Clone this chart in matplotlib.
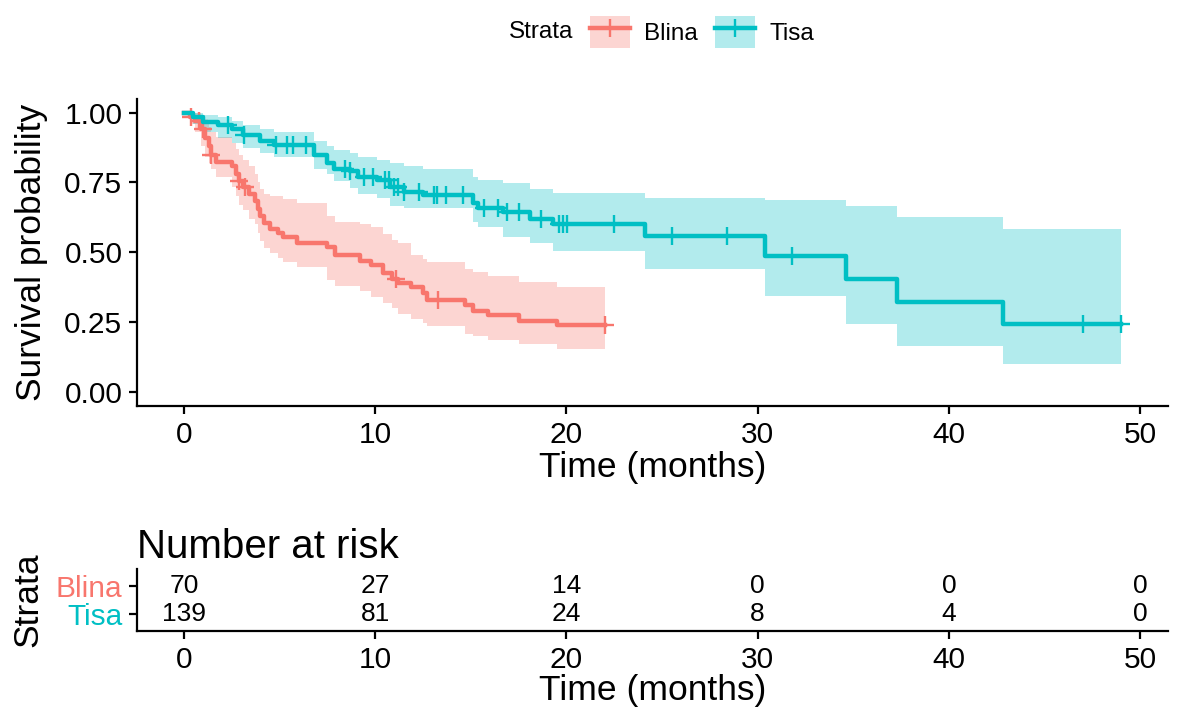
import matplotlib.pyplot as plt
import numpy as np
from matplotlib.lines import Line2D
from matplotlib.patches import Patch

plt.rcParams["font.family"] = ["Liberation Sans", "DejaVu Sans"]

# colours (ggplot default hue pair)
red = "#F8766D"
teal = "#00BFC4"

# Blina curve: step times, survival, confidence band
blina_time = [0, 0.3, 0.6, 0.9, 1.1, 1.3, 1.4, 1.7, 2.5, 2.7, 2.9, 3.1, 3.4, 3.7,
              3.9, 4.0, 4.2, 4.5, 4.9, 5.2, 5.9, 7.5, 7.9, 9.2, 9.8, 10.4, 10.9,
              11.2, 11.9, 12.5, 12.7, 14.7, 15.1, 15.9, 17.5, 19.5, 22.0]
blina_surv = [1.0, 0.985, 0.97, 0.94, 0.91, 0.88, 0.85, 0.825, 0.81, 0.78, 0.755,
              0.735, 0.71, 0.685, 0.655, 0.63, 0.605, 0.585, 0.57, 0.555, 0.535,
              0.52, 0.49, 0.47, 0.455, 0.425, 0.405, 0.39, 0.375, 0.355, 0.33,
              0.31, 0.29, 0.275, 0.255, 0.24, 0.24]
blina_upper = [1.0, 1.0, 1.0, 0.99, 0.97, 0.95, 0.93, 0.914, 0.89, 0.87, 0.85,
               0.83, 0.81, 0.78, 0.75, 0.725, 0.71, 0.70, 0.70, 0.69, 0.675,
               0.63, 0.61, 0.60, 0.59, 0.565, 0.545, 0.535, 0.49, 0.475, 0.466,
               0.442, 0.43, 0.415, 0.394, 0.376, 0.376]
blina_lower = [1.0, 0.96, 0.93, 0.88, 0.84, 0.82, 0.80, 0.77, 0.735, 0.70, 0.67,
               0.65, 0.62, 0.60, 0.57, 0.54, 0.515, 0.497, 0.48, 0.465, 0.448,
               0.40, 0.38, 0.36, 0.34, 0.32, 0.30, 0.28, 0.263, 0.246, 0.235,
               0.209, 0.20, 0.185, 0.173, 0.155, 0.155]
blina_censor = [0.37, 0.8, 1.0, 1.4, 2.9, 3.2, 11.1, 13.3, 22.0]

# Tisa curve
tisa_time = [0, 0.5, 1.0, 1.8, 2.5, 3.1, 4.0, 4.7, 6.8, 7.5, 7.85, 8.7, 9.1, 10.1,
             10.8, 11.5, 12.5, 15.1, 15.4, 16.7, 18.1, 19.3, 24.1, 30.4, 34.6,
             37.3, 42.8, 49.0]
tisa_surv = [1.0, 0.985, 0.965, 0.955, 0.94, 0.92, 0.90, 0.885, 0.85, 0.82, 0.80,
             0.79, 0.77, 0.76, 0.735, 0.717, 0.705, 0.675, 0.657, 0.645, 0.62,
             0.60, 0.557, 0.488, 0.406, 0.323, 0.242, 0.242]
tisa_upper = [1.0, 1.0, 0.99, 0.985, 0.97, 0.955, 0.94, 0.93, 0.90, 0.88, 0.865,
              0.855, 0.84, 0.83, 0.82, 0.81, 0.80, 0.771, 0.76, 0.747, 0.725,
              0.711, 0.696, 0.687, 0.666, 0.627, 0.582, 0.582]
tisa_lower = [1.0, 0.96, 0.93, 0.91, 0.89, 0.875, 0.855, 0.84, 0.80, 0.78, 0.755,
              0.73, 0.71, 0.695, 0.665, 0.66, 0.657, 0.61, 0.59, 0.556, 0.532,
              0.505, 0.442, 0.343, 0.245, 0.164, 0.102, 0.102]
tisa_censor = [2.3, 3.15, 4.8, 5.4, 5.7, 6.4, 8.4, 8.7, 9.4, 9.9, 10.5, 10.7, 11.0,
               11.2, 11.5, 12.3, 13.1, 13.25, 13.7, 14.6, 15.7, 16.4, 16.9, 17.5,
               18.65, 19.6, 19.8, 20.05, 22.5, 25.5, 28.4, 31.8, 47.0, 49.0]

# number at risk table
risk_times = [0, 10, 20, 30, 40, 50]
blina_risk = [70, 27, 14, 0, 0, 0]
tisa_risk = [139, 81, 24, 8, 4, 0]

strata = [
    ("Blina", red, blina_time, blina_surv, blina_lower, blina_upper, blina_censor),
    ("Tisa", teal, tisa_time, tisa_surv, tisa_lower, tisa_upper, tisa_censor),
]

tick_fs = 21.5
title_fs = 25.5

fig = plt.figure(figsize=(11.8, 7.11), dpi=100)
ax = fig.add_axes([0.1161, 0.4290, 0.8737, 0.4322])
ax_t = fig.add_axes([0.1161, 0.1125, 0.8737, 0.0870])


def style_axes(a):
    for side in ["top", "right"]:
        a.spines[side].set_visible(False)
    for side in ["left", "bottom"]:
        a.spines[side].set_linewidth(1.6)
        a.spines[side].set_color("black")
    a.tick_params(width=1.6, length=5.5, pad=5, labelsize=tick_fs, colors="black")


# survival curves
for name, col, t, s, lo, up, cens in strata:
    ax.fill_between(t, lo, up, step="post", color=col, alpha=0.3, linewidth=0)
for name, col, t, s, lo, up, cens in strata:
    ax.step(t, s, where="post", color=col, linewidth=3.2)
    idx = np.searchsorted(t, cens, side="right") - 1
    ax.plot(cens, np.array(s)[idx], linestyle="none", marker="+",
            markersize=13, markeredgewidth=1.7, color=col)

ax.set_xlim(-2.45, 51.45)
ax.set_ylim(-0.05, 1.05)
ax.set_xticks(risk_times)
ax.set_yticks([0, 0.25, 0.5, 0.75, 1.0])
ax.set_yticklabels(["0.00", "0.25", "0.50", "0.75", "1.00"])
ax.set_xlabel("Time (months)", fontsize=title_fs, labelpad=2)
ax.set_ylabel("Survival probability", fontsize=title_fs, labelpad=12)
style_axes(ax)

# legend
handles = [
    (Patch(facecolor=red, alpha=0.3, edgecolor="none"),
     Line2D([], [], color=red, linewidth=3.2, marker="+", markersize=13, markeredgewidth=1.7)),
    (Patch(facecolor=teal, alpha=0.3, edgecolor="none"),
     Line2D([], [], color=teal, linewidth=3.2, marker="+", markersize=13, markeredgewidth=1.7)),
]
leg = fig.legend(handles, ["Blina", "Tisa"], loc="center", bbox_to_anchor=(0.595, 0.955),
                 ncol=2, frameon=False, fontsize=17.5, handlelength=1.65,
                 handleheight=1.65, handletextpad=0.6, columnspacing=0.7,
                 borderpad=0.1)
fig.text(0.4856, 0.955, "Strata", ha="right", va="center", fontsize=17.5)

# risk table
for i, (name, counts) in enumerate([("Tisa", tisa_risk), ("Blina", blina_risk)]):
    for tt, n in zip(risk_times, counts):
        ax_t.text(tt, i, str(n), ha="center", va="center", fontsize=19)
ax_t.set_xlim(-2.45, 51.45)
ax_t.set_ylim(-0.6, 1.6)
ax_t.set_xticks(risk_times)
ax_t.set_yticks([0, 1])
ax_t.set_yticklabels(["Tisa", "Blina"])
style_axes(ax_t)
for lab, col in zip(ax_t.get_yticklabels(), [teal, red]):
    lab.set_color(col)
ax_t.set_xlabel("Time (months)", fontsize=title_fs, labelpad=0)
ax_t.set_ylabel("Strata", fontsize=title_fs, labelpad=8)
ax_t.set_title("Number at risk", loc="left", fontsize=29, pad=8)

fig.savefig("out.png", dpi=100)
